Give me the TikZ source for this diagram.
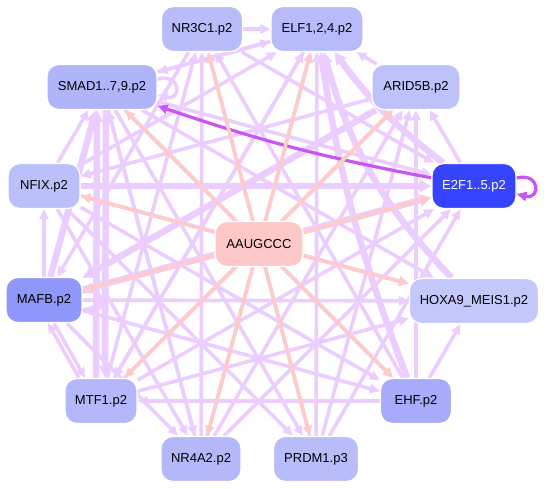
\documentclass[tikz,border=0pt]{standalone}
\usepackage{fontspec}
\setmainfont{Liberation Sans}
\usetikzlibrary{arrows.meta,calc}
\pgfdeclarelayer{bg}
\pgfsetlayers{bg,main}
\definecolor{ep}{HTML}{ECCDFF}
\definecolor{epk}{HTML}{FFCACA}
\definecolor{edk}{HTML}{C955F5}
\definecolor{cA}{HTML}{B8BCF9}
\definecolor{cB}{HTML}{B7BBF9}
\definecolor{cC}{HTML}{BFC2FA}
\definecolor{cD}{HTML}{3645FD}
\definecolor{cE}{HTML}{C4C7FA}
\definecolor{cF}{HTML}{A6ACFA}
\definecolor{cG}{HTML}{B8BCF9}
\definecolor{cH}{HTML}{B4B8F9}
\definecolor{cI}{HTML}{B4B8FA}
\definecolor{cJ}{HTML}{8F97FA}
\definecolor{cK}{HTML}{BCC0FA}
\definecolor{cL}{HTML}{B0B5F9}
\definecolor{cX}{HTML}{FFC8C8}
\begin{document}
\begin{tikzpicture}[x=1pt,y=-1pt,
  tf/.style={rectangle,rounded corners=12pt,minimum height=45pt,draw=white,line width=1.2pt,
    font=\fontsize{13}{15}\selectfont,inner sep=0pt,text=black},
  pe/.style={draw=ep,line width=3.6pt,-{Triangle[length=10pt,width=9pt]}},
  pt/.style={draw=ep,line width=6.5pt,-{Triangle[length=12pt,width=12pt]}},
  pk/.style={draw=epk,line width=3.6pt,-{Triangle[length=10pt,width=9pt]}},
  dk/.style={draw=edk,line width=3.2pt,-{Triangle[length=10pt,width=9pt]}}]
\useasboundingbox (0,0) rectangle (547,489);
% nodes
\node[tf,fill=cA,minimum width=81pt] (A) at (202,29) {NR3C1.p2};
\node[tf,fill=cB,minimum width=92pt] (B) at (317,29) {ELF1,2,4.p2};
\node[tf,fill=cC,minimum width=88pt] (C) at (416,87) {ARID5B.p2};
\node[tf,fill=cD,minimum width=84pt,text=white] (D) at (474,186) {E2F1..5.p2};
\node[tf,fill=cE,minimum width=129pt] (E) at (474,301) {HOXA9\_MEIS1.p2};
\node[tf,fill=cF,minimum width=71pt] (F) at (416,401) {EHF.p2};
\node[tf,fill=cG,minimum width=85pt] (G) at (316,459) {PRDM1.p3};
\node[tf,fill=cH,minimum width=80pt] (H) at (201,459) {NR4A2.p2};
\node[tf,fill=cI,minimum width=72pt] (I) at (101,401) {MTF1.p2};
\node[tf,fill=cJ,minimum width=76pt] (J) at (44,300) {MAFB.p2};
\node[tf,fill=cK,minimum width=72pt] (K) at (44,186) {NFIX.p2};
\node[tf,fill=cL,minimum width=110pt] (L) at (102,87) {SMAD1..7,9.p2};
\node[tf,fill=cX,minimum width=88pt] (X) at (259,244) {AAUGCCC};
\begin{pgfonlayer}{bg}
\fill[white] (0,0) rectangle (547,489);
% light purple edges
\foreach \s/\t in {A/B,C/B,L/B,K/B,I/B,H/B,G/B,B/L,K/L,H/L,I/A,H/A,F/A,G/A,F/E,F/I,J/E,I/E,
  I/D,H/D,G/D,G/C,F/C,D/C,C/K,B/I,J/H,K/H,L/H,K/G,L/G,J/F,K/F,L/F,A/J,L/D,A/D,L/E,H/C,I/C,K/E,J/K}
  \draw[pe] (\s) -- (\t);
% thick edges
\draw[pt] (F) to[bend left=6] (B);
\draw[pt] (D) to[bend left=8] (B);
\draw[pt] (E) to[bend left=14] (B);
\draw[pt] (J) -- (D);
\draw[pt] (C) -- (J);
\draw[pt] (K) -- (D);
\draw[pt] (J) -- (L);
\draw[pt] ($(I.north)+(-5,0)$) -- ($(L.south)+(-5,0)$);
\draw[pt] ($(L.south)+(4,0)$) -- ($(I.north)+(4,0)$);
\draw[pe] ($(J.south)+(10,0)$) -- ($(I.north)+(-16,0)$);
\draw[pe] ($(I.north)+(-22,0)$) -- ($(J.south)+(4,0)$);
% dark purple
\draw[dk] (D) to[bend left=4] (L);
\draw[dk] ($(D.east)+(0,-8)$) .. controls +(24,-6) and +(24,6) .. ($(D.east)+(0,8)$);
% self loops
\draw[pe] ($(L.east)+(0,-8)$) .. controls +(24,-6) and +(24,6) .. ($(L.east)+(0,8)$);
\draw[pe] ($(J.east)+(0,-8)$) .. controls +(24,-6) and +(24,6) .. ($(J.east)+(0,8)$);
% pink edges from AAUGCCC
\foreach \t in {A,B,C,D,E,F,G,H,I,J,K,L}
  \draw[pk] (X) -- (\t);
\end{pgfonlayer}
\end{tikzpicture}
\end{document}
